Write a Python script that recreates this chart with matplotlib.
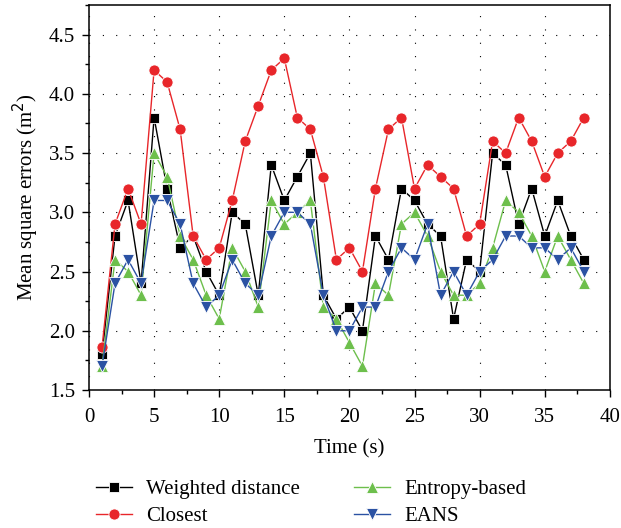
import matplotlib
matplotlib.use("Agg")
import matplotlib.pyplot as plt
from matplotlib.ticker import MultipleLocator

plt.rcParams['font.family'] = ['Liberation Serif', 'DejaVu Serif']

time_s = list(range(1, 39))
weighted = [1.8, 2.8, 3.1, 2.4, 3.8, 3.2, 2.7, 2.8, 2.5, 2.3,
            3.0, 2.9, 2.3, 3.4, 3.1, 3.3, 3.5, 2.3, 2.1, 2.2,
            2.0, 2.8, 2.6, 3.2, 3.1, 2.9, 2.8, 2.1, 2.6, 2.5,
            3.5, 3.4, 2.9, 3.2, 2.8, 3.1, 2.8, 2.6]
closest = [1.86, 2.9, 3.2, 2.9, 4.2, 4.1, 3.7, 2.8, 2.6, 2.7,
           3.1, 3.6, 3.9, 4.2, 4.3, 3.8, 3.7, 3.3, 2.6, 2.7,
           2.5, 3.2, 3.7, 3.8, 3.2, 3.4, 3.3, 3.2, 2.8, 2.9,
           3.6, 3.5, 3.8, 3.6, 3.3, 3.5, 3.6, 3.8]
entropy = [1.7, 2.6, 2.5, 2.3, 3.5, 3.3, 2.8, 2.6, 2.3, 2.1,
           2.7, 2.5, 2.2, 3.1, 2.9, 3.0, 3.1, 2.2, 2.1, 1.9,
           1.7, 2.4, 2.3, 2.9, 3.0, 2.8, 2.5, 2.3, 2.3, 2.4,
           2.7, 3.1, 3.0, 2.8, 2.5, 2.8, 2.6, 2.4]
eans = [1.7, 2.4, 2.6, 2.4, 3.1, 3.1, 2.9, 2.4, 2.2, 2.3,
        2.6, 2.4, 2.3, 2.8, 3.0, 3.0, 2.9, 2.3, 2.0, 2.0,
        2.2, 2.2, 2.5, 2.7, 2.6, 2.9, 2.3, 2.5, 2.3, 2.5,
        2.6, 2.8, 2.8, 2.7, 2.7, 2.6, 2.7, 2.5]

fig = plt.figure(figsize=(6.21, 5.28), dpi=100)
ax = fig.add_axes([0.1433, 0.2614, 0.8387, 0.7291])

style = dict(linewidth=1.0, markeredgecolor='white', markeredgewidth=0.6)
l1, = ax.plot(time_s, weighted, color='black', marker='s', markersize=7, **style)
l2, = ax.plot(time_s, closest, color='#e8262a', marker='o', markersize=8, **style)
l3, = ax.plot(time_s, entropy, color='#6dbf4c', marker='^', markersize=9, **style)
l4, = ax.plot(time_s, eans, color='#2b52a3', marker='v', markersize=9, **style)

ax.set_xlim(0, 40)
ax.set_ylim(1.5, 4.75)
ax.xaxis.set_major_locator(MultipleLocator(5))
ax.xaxis.set_minor_locator(MultipleLocator(2.5))
ax.yaxis.set_major_locator(MultipleLocator(0.5))
ax.yaxis.set_minor_locator(MultipleLocator(0.25))
ax.yaxis.set_major_formatter(matplotlib.ticker.FormatStrFormatter('%.1f'))
ax.tick_params(which='major', direction='out', length=5, width=1, labelsize=15, pad=5)
ax.tick_params(axis='x', which='major', pad=8)
ax.tick_params(which='minor', direction='out', length=3, width=1)
ax.grid(True, which='major', linestyle=(0, (1, 11)), color='black', linewidth=0.8)
for sp in ax.spines.values():
    sp.set_linewidth(1.1)

ax.set_xlabel('Time (s)', fontsize=15, labelpad=9)
ax.set_ylabel('Mean square errors (m$^2$)', fontsize=15, labelpad=6)

fig.legend([l1, l2, l3, l4], ['Weighted distance', 'Closest', 'Entropy-based', 'EANS'],
           loc='lower left', bbox_to_anchor=(0.125, -0.032), ncol=2, frameon=False,
           fontsize=15, columnspacing=2.6, handlelength=1.7, handletextpad=0.7,
           labelspacing=0.35)

fig.savefig('out.png', dpi=100)
